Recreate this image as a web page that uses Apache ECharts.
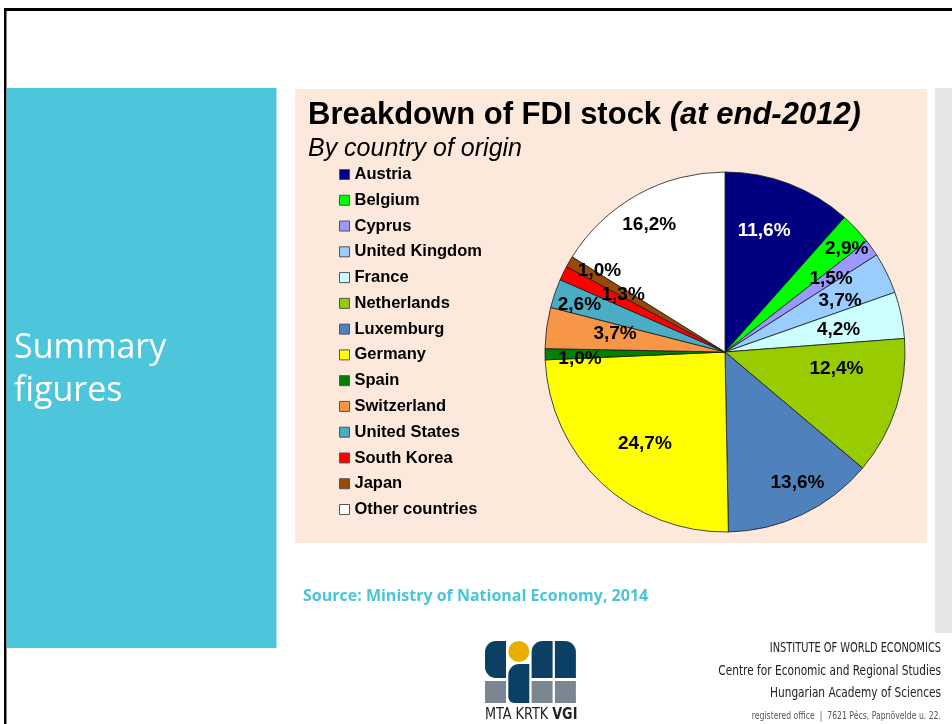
<!DOCTYPE html>
<html><head><meta charset="utf-8">
<script src="https://cdn.jsdelivr.net/npm/echarts@6/dist/echarts.min.js"></script>
<style>html,body{margin:0;padding:0;background:#fff}#c{width:952px;height:724px}</style>
</head><body><div id="c"></div>
<script>
// ---- data ----
const countries = ['Austria','Belgium','Cyprus','United Kingdom','France','Netherlands','Luxemburg','Germany','Spain','Switzerland','United States','South Korea','Japan','Other countries'];
const shares = [11.6, 2.9, 1.5, 3.7, 4.2, 12.4, 13.6, 24.7, 1.0, 3.7, 2.6, 1.3, 1.0, 16.2];
const titleMain = 'Breakdown of FDI stock ';
const titleNote = '(at end-2012)';
const subtitle = 'By country of origin';
const sideTitle = ['Summary', 'figures'];
const sourceText = 'Source: Ministry of National Economy, 2014';
const instituteLines = ['INSTITUTE OF WORLD ECONOMICS', 'Centre for Economic and Regional Studies', 'Hungarian Academy of Sciences'];
const addressLine = 'registered office  |  7621 Pécs, Papnövelde u. 22.';

// ---- styles ----
const sliceColors = ['#000080','#00FF00','#9999FF','#99CCFF','#CCFFFF','#99CC00','#4F81BD','#FFFF00','#008000','#F79646','#4BACC6','#FF0000','#984807','#FFFFFF'];
const labelColors = {'Austria': '#FFFFFF'};
// radial distance of each label (style), plus small nudges like the reference's placement
const labelRadius = [130, 156, 130, 128, 116, 114, 150, 120, 150, 116, 154, 120, 152, 150];
const labelNudge = [[-7,0],[8,4],[0,2],[0,5],[0,2],[3,-18],[8,-5],[2,4],[5,5],[5,-3],[0,3],[6,-5],[6,-5],[-3,4]];
const CX = 725, CY = 352, R = 180;
const FONT = '"Liberation Sans", Arial, sans-serif';
const NARROW = '"Liberation Sans Narrow", "DejaVu Sans Condensed", "Roboto Condensed", sans-serif';

const fmt = v => v.toFixed(1).replace('.', ',') + '%';

const series = [{
  type: 'pie', center: [CX, CY], radius: R, startAngle: 90, clockwise: true,
  silent: true, emphasis: {disabled: true}, avoidLabelOverlap: false,
  label: {show: false}, labelLine: {show: false},
  itemStyle: {borderColor: '#1a1a1a', borderWidth: 0.8},
  data: countries.map((n, i) => ({name: n, value: shares[i], itemStyle: {color: sliceColors[i]}})),
  z: 2
}];

// invisible rings that only carry labels at the reference's radial distances
[...new Set(labelRadius)].forEach(d => {
  series.push({
    type: 'pie', center: [CX, CY], radius: [d - 11, d + 5], startAngle: 90, clockwise: true,
    silent: true, emphasis: {disabled: true}, avoidLabelOverlap: false,
    itemStyle: {borderWidth: 0, color: 'rgba(0,0,0,0)'},
    labelLine: {show: false},
    label: {position: 'inside', formatter: p => fmt(p.value), fontFamily: FONT, fontWeight: 'bold', fontSize: 19, color: '#000'},
    labelLayout: p => ({dx: labelNudge[p.dataIndex][0], dy: labelNudge[p.dataIndex][1], hideOverlap: false, moveOverlap: null}),
    data: countries.map((n, i) => ({
      name: n, value: shares[i],
      label: {show: labelRadius[i] === d, color: labelColors[n] || '#000'}
    })),
    z: 3
  });
});

const DB = '#0B3F63', GR = '#7A8792', YE = '#E9AE00';
const lx = 485, lw = 21, lg = 2.3;
const colX = k => lx + k * (lw + lg);

function rtext(y, text, font, fill, sx) {
  return {type: 'text', x: 941, y: y, scaleX: sx, style: {text: text, fill: fill, font: font, align: 'right', verticalAlign: 'middle'}, silent: true};
}

const graphic = [
  // slide frame
  {type: 'rect', shape: {x: 4, y: 8, width: 948, height: 3}, style: {fill: '#000'}, silent: true},
  {type: 'rect', shape: {x: 4, y: 8, width: 2.5, height: 716}, style: {fill: '#000'}, silent: true},
  // side panel
  {type: 'rect', shape: {x: 6.5, y: 88, width: 270, height: 560}, style: {fill: '#4DC5DB'}, silent: true},
  // chart panel
  {type: 'rect', shape: {x: 295, y: 89, width: 632, height: 454}, style: {fill: '#FCE9DC'}, silent: true},
  // right strip
  {type: 'rect', shape: {x: 935, y: 88, width: 17, height: 545}, style: {fill: '#E6E6E6'}, silent: true},
  {type: 'text', x: 14, y: 348, style: {text: sideTitle[0], fill: '#fff', font: '34px "Open Sans", sans-serif', verticalAlign: 'middle'}, silent: true},
  {type: 'text', x: 14, y: 391, style: {text: sideTitle[1], fill: '#fff', font: '34px "Open Sans", sans-serif', verticalAlign: 'middle'}, silent: true},
  {type: 'text', x: 303, y: 596, style: {text: sourceText, fill: '#4BC3D9', font: 'bold 16px "Open Sans", sans-serif', verticalAlign: 'middle'}, silent: true},
  // logo
  {type: 'rect', shape: {x: colX(0), y: 641, width: lw, height: 37, r: [11, 0, 0, 11]}, style: {fill: DB}, silent: true},
  {type: 'circle', shape: {cx: colX(1) + lw / 2, cy: 651.5, r: 10.5}, style: {fill: YE}, silent: true},
  {type: 'rect', shape: {x: colX(1), y: 664, width: lw, height: 39, r: [11, 0, 0, 6]}, style: {fill: DB}, silent: true},
  {type: 'rect', shape: {x: colX(2), y: 641, width: lw, height: 37, r: [11, 0, 0, 0]}, style: {fill: DB}, silent: true},
  {type: 'rect', shape: {x: colX(3), y: 641, width: lw, height: 37, r: [0, 11, 0, 0]}, style: {fill: DB}, silent: true},
  {type: 'rect', shape: {x: colX(0), y: 681, width: lw, height: 22}, style: {fill: GR}, silent: true},
  {type: 'rect', shape: {x: colX(2), y: 681, width: lw, height: 22}, style: {fill: GR}, silent: true},
  {type: 'rect', shape: {x: colX(3), y: 681, width: lw, height: 22}, style: {fill: GR}, silent: true},
  {type: 'text', x: 485, y: 715, scaleX: 0.95, style: {text: '{n|MTA KRTK }{b|VGI}', verticalAlign: 'middle',
    rich: {n: {fill: '#222', font: '15px ' + NARROW}, b: {fill: '#222', font: 'bold 15px ' + NARROW}}}, silent: true},
  // institute block
  rtext(648, instituteLines[0], '14px ' + NARROW, '#222', 0.78),
  rtext(671, instituteLines[1], '14px ' + NARROW, '#222', 0.84),
  rtext(693, instituteLines[2], '14px ' + NARROW, '#222', 0.84),
  rtext(716, addressLine, '10px ' + NARROW, '#555', 0.86)
];

const chart = echarts.init(document.getElementById('c'), null, {renderer: 'canvas'});
chart.setOption({
  animation: false,
  backgroundColor: '#fff',
  title: [
    {text: '{a|' + titleMain + '}{b|' + titleNote + '}', left: 308, top: 98, padding: 0,
     textStyle: {rich: {
       a: {fontFamily: FONT, fontWeight: 'bold', fontSize: 31, color: '#000', lineHeight: 34},
       b: {fontFamily: FONT, fontWeight: 'bold', fontStyle: 'italic', fontSize: 31, color: '#000', lineHeight: 34}}}},
    {text: subtitle, left: 308, top: 135, padding: 0,
     textStyle: {fontFamily: FONT, fontStyle: 'italic', fontWeight: 'normal', fontSize: 25, color: '#000', lineHeight: 28}}
  ],
  legend: {
    orient: 'vertical', left: 339, top: 166, padding: 0,
    data: countries, icon: 'rect', itemWidth: 10, itemHeight: 10, itemGap: 8.77,
    selectedMode: false,
    itemStyle: {borderColor: '#555', borderWidth: 1},
    textStyle: {fontFamily: FONT, fontWeight: 'bold', fontSize: 16.5, color: '#000', lineHeight: 16}
  },
  graphic: graphic,
  series: series
});
</script>
</body></html>
